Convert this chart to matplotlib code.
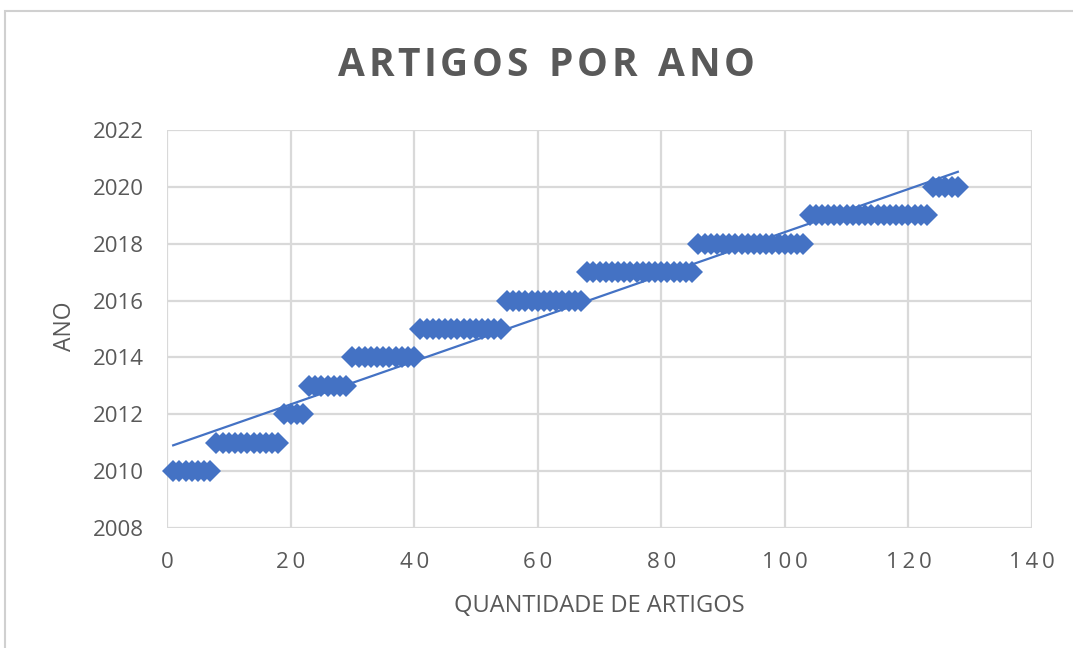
import numpy as np
import matplotlib
matplotlib.use("Agg")
import matplotlib.pyplot as plt
from matplotlib.patches import Rectangle

# Publication year of each article, grouped as consecutive article numbers
years = [2010, 2011, 2012, 2013, 2014, 2015, 2016, 2017, 2018, 2019, 2020]
first_article = [1, 8, 19, 23, 30, 41, 55, 68, 86, 104, 124]
last_article = [7, 18, 22, 29, 40, 54, 67, 85, 103, 123, 128]

x_ticks = [0, 20, 40, 60, 80, 100, 120, 140]
y_ticks = [2008, 2010, 2012, 2014, 2016, 2018, 2020, 2022]

title = "ARTIGOS POR ANO"
x_label = "QUANTIDADE DE ARTIGOS"
y_label = "ANO"

blue = "#4472C4"
grid_grey = "#d9d9d9"
text_grey = "#595959"
fonts = ["Open Sans", "DejaVu Sans"]

x_vals = []
y_vals = []
for yr, a, b in zip(years, first_article, last_article):
    for n in range(a, b + 1):
        x_vals.append(n)
        y_vals.append(yr)
x_vals = np.array(x_vals, dtype=float)
y_vals = np.array(y_vals, dtype=float)

W, H = 1073, 648
fig = plt.figure(figsize=(W / 100, H / 100), dpi=100)
fig.patch.set_facecolor("white")

# outer chart frame
fig.patches.append(Rectangle((5 / W, -0.01), 1.1, (H - 11) / H + 0.01,
                             transform=fig.transFigure, fill=False,
                             edgecolor="#d0d0d0", linewidth=1.5))

ax = fig.add_axes([167 / W, 1 - 528 / H, (1032 - 167) / W, (528 - 130) / H])
ax.set_xlim(0, 140)
ax.set_ylim(2008, 2022)
ax.set_xticks(x_ticks)
ax.set_yticks(y_ticks)
ax.set_xticklabels(["\u2009".join(str(t)) for t in x_ticks])
ax.grid(True, color=grid_grey, linewidth=1.6)
ax.set_axisbelow(True)
for s in ax.spines.values():
    s.set_visible(False)
ax.tick_params(length=0, colors=text_grey, labelsize=16)
ax.tick_params(axis="x", pad=17)
ax.tick_params(axis="y", pad=17)
for lab in ax.get_xticklabels() + ax.get_yticklabels():
    lab.set_fontfamily(fonts)

ax.plot(x_vals, y_vals, linestyle="none", marker="D", markersize=11.5,
        markeredgewidth=0, color=blue, zorder=3, clip_on=False)

# linear trend line
slope, intercept = np.polyfit(x_vals, y_vals, 1)
xt = np.array([x_vals.min(), x_vals.max()])
ax.plot(xt, slope * xt + intercept, color=blue, linewidth=1.6, zorder=4)


def tracked_text(fig, s, xc, yc, tracking, **kw):
    """Draw a centred string one glyph at a time with extra letter spacing."""
    renderer = fig.canvas.get_renderer()
    widths = []
    for ch in s:
        t = fig.text(0, 0, ch if ch != " " else "n", **kw)
        widths.append(t.get_window_extent(renderer).width * (0.55 if ch == " " else 1.0))
        t.remove()
    total = sum(widths) + tracking * (len(s) - 1)
    x = xc - total / 2
    for ch, w in zip(s, widths):
        if ch != " ":
            fig.text(x / W, yc / H, ch, ha="left", va="center", **kw)
        x += w + tracking


tracked_text(fig, title, 546, H - 66, 3.6, fontsize=28, fontweight="bold",
             color=text_grey, family=fonts)

fig.text((167 + 1032) / 2 / W, 1 - 606 / H, x_label, ha="center", va="center",
         fontsize=17, color=text_grey, family=fonts)
fig.text(65 / W, 1 - 326 / H, y_label, ha="center", va="center",
         rotation=90, fontsize=16.5, color=text_grey, family=fonts)

fig.savefig("out.png", dpi=100, facecolor="white")
